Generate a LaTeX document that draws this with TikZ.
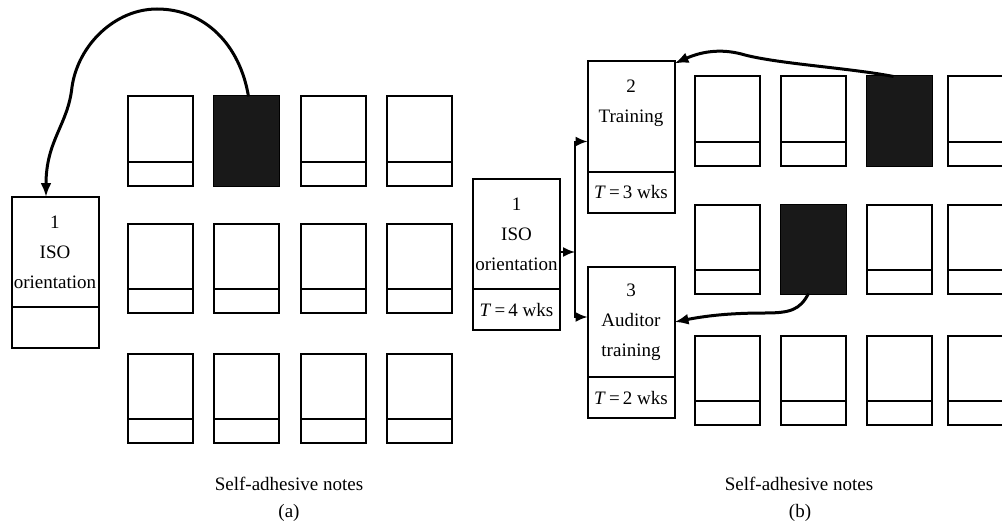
\documentclass[tikz,border=0pt]{standalone}
\usepackage{fontspec}
\setmainfont{Liberation Serif}
\usetikzlibrary{positioning,arrows.meta}

\tikzset{
  note/.style={draw,line width=2pt,minimum width=65pt,minimum height=89pt,inner sep=0pt,outer sep=0pt},
  actbox/.style={draw,line width=2pt,minimum width=87pt,minimum height=110pt,inner sep=0pt,outer sep=0pt,align=center},
  timebox/.style={draw,line width=2pt,minimum width=87pt,minimum height=41pt,inner sep=0pt,outer sep=0pt},
  flow/.style={line width=3pt,-{Latex[length=14pt,width=11pt]}},
  branch/.style={line width=1.8pt,-{Latex[length=12pt,width=10pt]}},
  darknote/.style={fill=black!90},
}

\begin{document}
\begin{tikzpicture}[x=1pt,y=-1pt,>=Latex,
    every node/.append style={font=\fontsize{19}{30}\selectfont}]
  \useasboundingbox (0,0) rectangle (1002,527);
  % (a): notes before planning
  \begin{scope}
    \foreach \r/\y in {1/141,2/268.5,3/398.5}
      \foreach \c/\x in {1/160.5,2/246.5,3/333.5,4/419.5} {
        \node[note] (na-\r-\c) at (\x,\y) {};
        \draw[line width=2pt] ([yshift=24pt]na-\r-\c.south west) -- ([yshift=24pt]na-\r-\c.south east);
      }
    \fill[darknote] (na-1-2.south west) rectangle (na-1-2.north east);
    \node[actbox] (a1) at (55,252) {1\\ISO\\orientation};
    \node[timebox,below=0pt of a1] (a1t) {};
    % note moved onto the board
    \draw[flow] ([xshift=2pt]na-1-2.north) .. controls (240,45) and (205,9) .. (157,9)
      .. controls (115,9) and (78,45) .. (72,87)
      .. controls (68,125) and (46,140) .. ([xshift=-9pt]a1.north);
    \node (capa) at (289,484) {Self-adhesive notes};
    \node (laba) at (289,513) {(a)};
  \end{scope}
  % (b): notes placed into the network
  \begin{scope}
    \foreach \r/\y in {1/121,2/249,3/380}
      \foreach \c/\x in {1/727.5,2/813.5,3/899.5,4/980.5} {
        \node[note] (nb-\r-\c) at (\x,\y) {};
        \draw[line width=2pt] ([yshift=24pt]nb-\r-\c.south west) -- ([yshift=24pt]nb-\r-\c.south east);
      }
    \fill[darknote] (nb-1-3.south west) rectangle (nb-1-3.north east);
    \fill[darknote] (nb-2-2.south west) rectangle (nb-2-2.north east);
    \node[actbox] (b1) at (516.5,234) {1\\ISO\\orientation};
    \node[timebox,below=0pt of b1] (b1t) {\textit{T}\,=\,4 wks};
    \node[actbox] (b2) at (631,116.5) {2\\Training\\\mbox{}};
    \node[timebox,below=0pt of b2] (b2t) {\textit{T}\,=\,3 wks};
    \node[actbox] (b3) at (631,322) {3\\Auditor\\training};
    \node[timebox,below=0pt of b3] (b3t) {\textit{T}\,=\,2 wks};
    \coordinate (fork) at (575,252);
    \draw[branch] ([yshift=-18pt]b1.east) -- (fork);
    \draw[branch] (fork) |- ([yshift=-25pt]b2.west);
    \draw[branch] (fork) |- ([yshift=5pt]b3.west);
    \draw[flow] ([xshift=-6pt]nb-1-3.north) .. controls (850,68) and (780,64) .. (745,55)
      .. controls (725,49) and (705,50) .. ([yshift=-2pt]b2.north east);
    \draw[flow] ([xshift=-5pt]nb-2-2.south) .. controls (800,310) and (790,313) .. (765,313)
      .. controls (735,313) and (710,315) .. (b3.east);
    \node (capb) at (799,484) {Self-adhesive notes};
    \node (labb) at (800,513) {(b)};
  \end{scope}
\end{tikzpicture}
\end{document}
